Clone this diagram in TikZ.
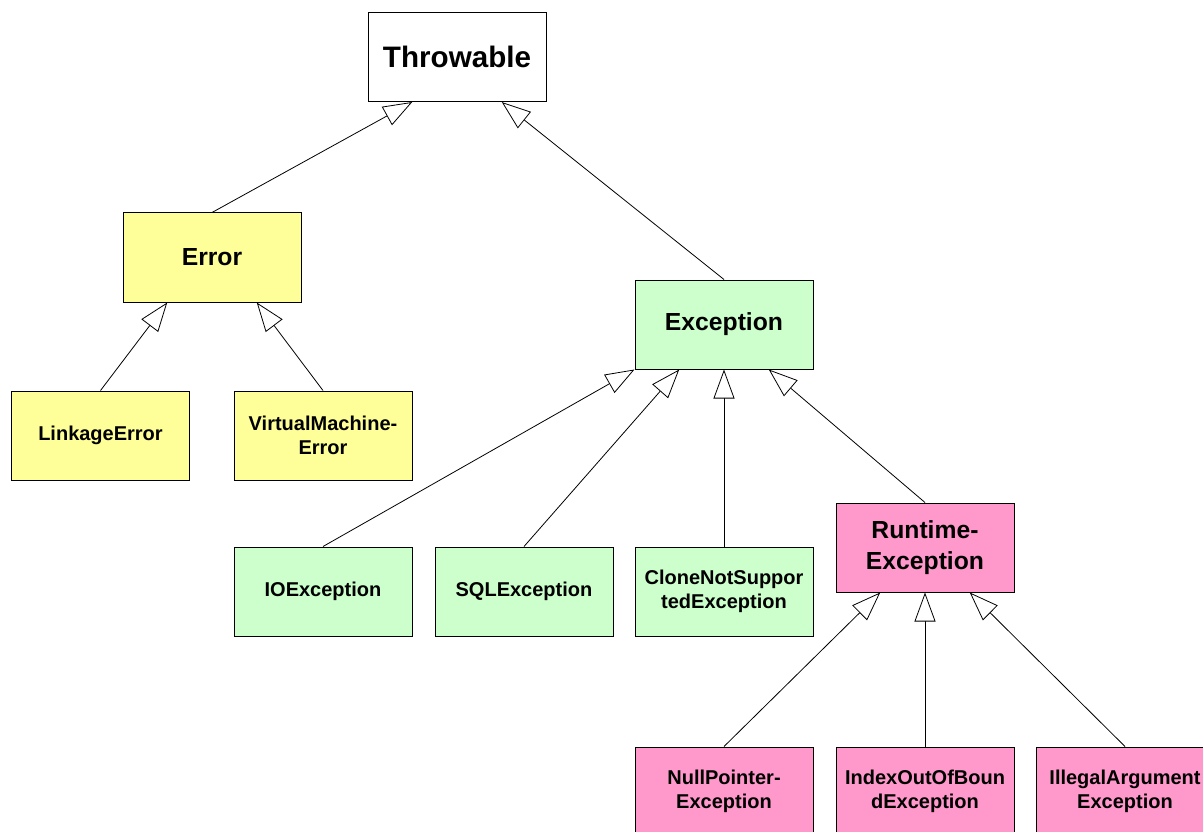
\documentclass[tikz,border=0pt]{standalone}
\usepackage{fontspec}
\setmainfont{Liberation Sans}
\usetikzlibrary{arrows.meta, calc}
\definecolor{errfill}{HTML}{FFFF99}
\definecolor{excfill}{HTML}{CCFFCC}
\definecolor{rtfill}{HTML}{FF99CC}
\tikzset{
    cls/.style={draw=black,line width=1pt,minimum width=178pt,minimum height=89pt,
        inner sep=0pt,align=center,font=\bfseries\fontsize{20}{24}\selectfont},
    big/.style={font=\bfseries\fontsize{24.7}{31}\selectfont},
    errnode/.style={cls,fill=errfill},
    excnode/.style={cls,fill=excfill},
    rtnode/.style={cls,fill=rtfill},
    inh/.style={
        every edge/.style={draw,line width=0.8pt,-{Triangle[open,length=29pt,width=21pt,fill=white]}},
    }
}

\begin{document}
\begin{tikzpicture}[x=1pt,y=-1pt,inh]
\useasboundingbox (0,0) rectangle (1203,832);
\clip (0,0) rectangle (1203,832);
\node[cls, fill=white, font=\bfseries\fontsize{29.6}{36}\selectfont] (thr) at (457,57) {Throwable};
\node[errnode, big] (err) at (212,257.5) {Error};
\node[excnode, big] (exc) at (724,324.5) {Exception};
\node[errnode] (link) at (100.5,435.5) {LinkageError};
\node[errnode] (vm) at (323,435.5) {VirtualMachine-\\Error};
\node[excnode] (io) at (323,591.5) {IOException};
\node[excnode] (sql) at (524,591.5) {SQLException};
\node[excnode] (clone) at (724,591.5) {CloneNotSuppor\\tedException};
\node[rtnode, big] (rt) at (925,547.5) {Runtime-\\Exception};
\node[rtnode] (npe) at (724,791.5) {NullPointer-\\Exception};
\node[rtnode] (idx) at (925,791.5) {IndexOutOfBoun\\dException};
\node[rtnode] (ill) at (1125,791.5) {IllegalArgument\\Exception};
\path
    (err.north) edge ($(thr.south west)!.25!(thr.south east)$)
    (exc.north) edge ($(thr.south west)!.75!(thr.south east)$)
    (link.north) edge ($(err.south west)!.25!(err.south east)$)
    (vm.north) edge ($(err.south west)!.75!(err.south east)$)
    (io.north) edge (exc.south west)
    (sql.north) edge ($(exc.south west)!.25!(exc.south east)$)
    (clone.north) edge (exc.south)
    (rt.north) edge ($(exc.south west)!.75!(exc.south east)$)
    (npe.north) edge ($(rt.south west)!.25!(rt.south east)$)
    (idx.north) edge (rt.south)
    (ill.north) edge ($(rt.south west)!.75!(rt.south east)$)
;
\end{tikzpicture}
\end{document}
